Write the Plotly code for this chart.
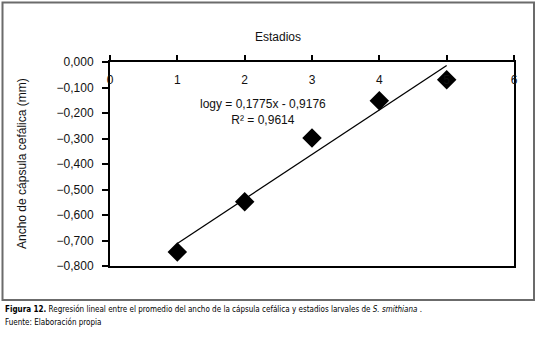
import numpy as np
import plotly.graph_objects as go

# Data
estadios = [1, 2, 3, 4, 5]
ancho_log = [-0.745, -0.548, -0.298, -0.152, -0.070]
x_ticks = [0, 1, 2, 3, 4, 5, 6]
y_ticks = [0, -0.1, -0.2, -0.3, -0.4, -0.5, -0.6, -0.7, -0.8]
ecuacion = "logy = 0,1775x - 0,9176"
r2 = "R² = 0,9614"

# Linear trend (least squares over the data)
slope, intercept = np.polyfit(estadios, ancho_log, 1)
trend_x = [min(estadios), max(estadios)]
trend_y = [slope * v + intercept for v in trend_x]

FONT = "Liberation Sans, Arial, sans-serif"
CAP_FONT = "DejaVu Sans Condensed, Liberation Sans, sans-serif"

L, R, T, B = 110, 514, 62, 266
W, H = 538, 344
pw, ph = R - L, B - T

def px(x):
    return (x - L) / pw

def py(y):
    return (B - y) / ph

fig = go.Figure()
fig.add_trace(go.Scatter(x=trend_x, y=trend_y, mode="lines",
                         line=dict(color="black", width=1.3), showlegend=False))
fig.add_trace(go.Scatter(x=estadios, y=ancho_log, mode="markers",
                         marker=dict(symbol="diamond", size=15, color="black"),
                         showlegend=False))

fig.update_layout(
    width=W, height=H,
    margin=dict(l=L, r=W - R, t=T, b=H - B),
    paper_bgcolor="white", plot_bgcolor="white",
    separators=",.",
    font=dict(family=FONT, size=12, color="#111"),
    xaxis=dict(range=[0, 6], tickvals=x_ticks, side="top",
               ticks="outside", ticklen=5, tickwidth=2, tickcolor="black",
               ticklabelstandoff=-34,
               showline=True, linewidth=2, linecolor="black", mirror=True,
               showgrid=False, zeroline=False, automargin=False),
    yaxis=dict(range=[-0.8, 0], tickvals=y_ticks, tickformat=".3f",
               ticks="outside", ticklen=6, tickwidth=2, tickcolor="black",
               ticklabelstandoff=6,
               showline=True, linewidth=2, linecolor="black", mirror=True,
               showgrid=False, zeroline=False, automargin=False),
    annotations=[
        dict(x=2.27, y=-0.198, xref="x", yref="y", showarrow=False,
             text=ecuacion + "<br>" + r2, align="center",
             font=dict(size=12, family=FONT)),
        dict(x=px(278), y=py(37), xref="paper", yref="paper", showarrow=False,
             xanchor="center", yanchor="middle",
             text="Estadios", font=dict(size=12, family=FONT)),
        dict(x=px(22), y=py(164), xref="paper", yref="paper", showarrow=False,
             xanchor="center", yanchor="middle",
             text="Ancho de cápsula cefálica (mm)", textangle=-90,
             font=dict(size=12, family=FONT)),
        dict(x=px(3), y=py(309), xref="paper", yref="paper", showarrow=False,
             xanchor="left", yanchor="middle",
             text="<b>Figura 12.</b> Regresión lineal entre el promedio del ancho de la cápsula cefálica y estadios larvales de <i>S. smithiana</i> .",
             font=dict(size=8, family=CAP_FONT, color="black")),
        dict(x=px(3), y=py(322), xref="paper", yref="paper", showarrow=False,
             xanchor="left", yanchor="middle",
             text="Fuente: Elaboración propia",
             font=dict(size=8, family=CAP_FONT, color="black")),
    ],
    shapes=[dict(type="rect", xref="paper", yref="paper",
                 x0=px(2.5), x1=px(534), y0=py(300), y1=py(2.5),
                 line=dict(color="#6b6b6b", width=2))],
)

fig.write_html("out.html", config={"displayModeBar": False},
               post_script="document.body.style.margin='0';document.body.style.overflow='hidden';")
